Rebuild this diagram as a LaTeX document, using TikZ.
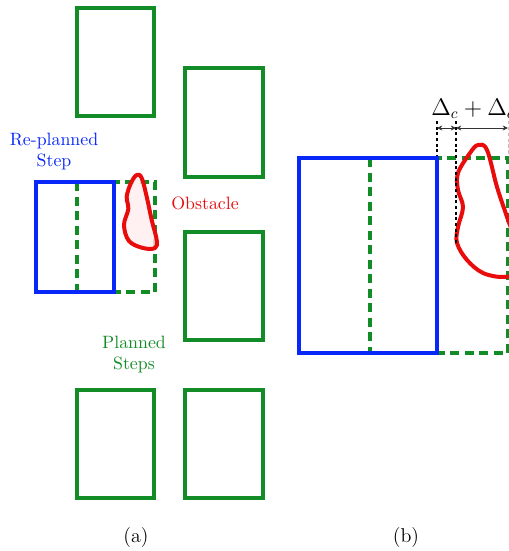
\documentclass[tikz,border=0pt]{standalone}
\usetikzlibrary{arrows.meta}
\definecolor{stepgreen}{RGB}{18,140,38}
\definecolor{stepblue}{RGB}{8,40,250}
\definecolor{obsred}{RGB}{232,12,12}
\definecolor{obsfill}{RGB}{255,238,238}
\begin{document}
\begin{tikzpicture}[x=0.6pt,y=-0.6pt,
  planned/.style={draw=stepgreen,line width=2.4pt},
  plandash/.style={draw=stepgreen,line width=2.4pt,dash pattern=on 5.4pt off 3.3pt},
  replan/.style={draw=stepblue,line width=2.4pt},
  obst/.style={draw=obsred,line width=2.4pt,line join=round},
  guide/.style={draw=black,line width=1.5pt,dash pattern=on 1.8pt off 1.6pt},
  faint/.style={draw=black!25,line width=0.6pt,dash pattern=on 2pt off 1.5pt},
  dim/.style={draw=black!80,line width=0.5pt,{Stealth[length=3.2pt,width=3pt]}-{Stealth[length=3.2pt,width=3pt]}},
  lbl/.style={font=\fontsize{10.7}{12.6}\selectfont,align=center,inner sep=0pt},
  captxt/.style={font=\fontsize{12}{14}\selectfont,inner sep=0pt}]
\useasboundingbox (0,0) rectangle (509,551);

% ---------- (a) ----------
\draw[planned] (77,8) rectangle (154,116);
\draw[planned] (185,68) rectangle (263,177);
\draw[planned] (185,232) rectangle (263,340);
\draw[planned] (77,390) rectangle (154,498);
\draw[planned] (185,390) rectangle (263,498);
\draw[plandash] (77,182) rectangle (155,292);
\draw[obst,fill=obsfill,fill opacity=0.8] plot[smooth cycle,tension=0.6] coordinates
  {(136.7,175) (141.7,178) (146.7,196.7) (151.7,220) (156.7,240) (155,248) (143,248) (129,241) (124,225) (128.3,209) (126.7,196.7) (131,183)};
\draw[replan] (36,182) rectangle (114,292);

\node[lbl,text=stepblue] (replanlbl) at (54,152) {Re-planned\\Step};
\node[lbl,text=obsred] (obslbl) at (205,203) {Obstacle};
\node[lbl,text=stepgreen] (plannedlbl) at (134,355) {Planned\\Steps};
\node[captxt] (capa) at (136,538) {(a)};

% ---------- (b) ----------
\draw[plandash] (370,158) rectangle (508,353);
\draw[obst] plot[smooth cycle,tension=0.6] coordinates
  {(478,145) (487,150) (497,187) (507,217) (516,245) (513,272) (503,277) (483,273) (467,260) (457,243) (458,227) (463,207) (458,190) (458,173) (470,153)};
\draw[replan] (299,158) rectangle (437,353);

\coordinate (ga) at (437,121);
\coordinate (gb) at (456,121);
\coordinate (gc) at (508,121);
\coordinate (ga2) at (437,156);
\coordinate (gb2) at (456,243);
\coordinate (gc2) at (508,156);
\draw[guide] (ga) -- (ga2);
\draw[guide] (gb) -- (gb2);
\draw[faint] (gc) -- (gc2);
\coordinate (da) at (437,128);
\coordinate (db) at (456,128);
\coordinate (dc) at (508,128);
\draw[dim] (da) -- (db);
\draw[dim] (db) -- (dc);
\node[captxt,anchor=base west,font=\fontsize{13.5}{16}\selectfont] (deltalbl) at (431,115) {$\Delta_c+\Delta_o$};
\node[captxt] (capb) at (406,538) {(b)};
\end{tikzpicture}
\end{document}
